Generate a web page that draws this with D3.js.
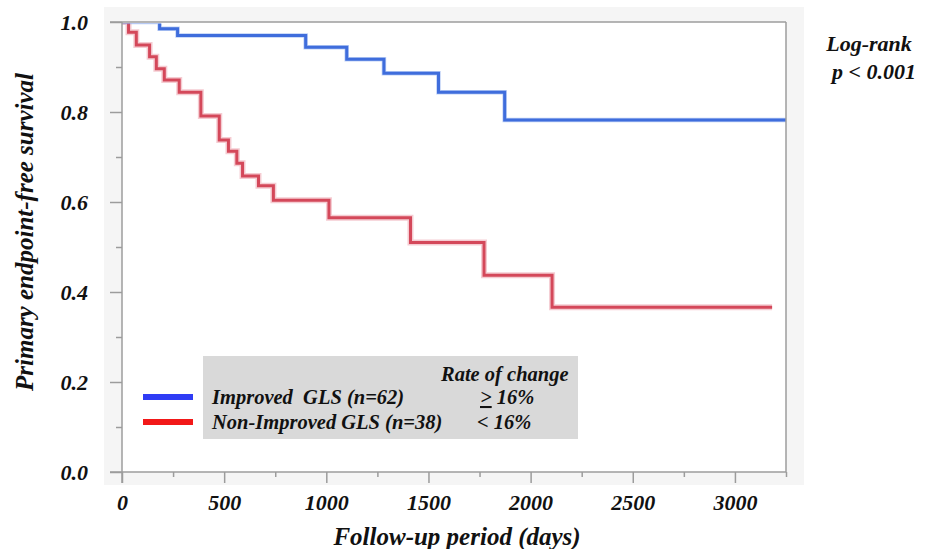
<!DOCTYPE html>
<html>
<head>
<meta charset="utf-8">
<script src="https://cdn.jsdelivr.net/npm/d3@7"></script>
<style>
  body { margin: 0; background: #fff; }
  text { font-family: "Liberation Serif", "Times New Roman", serif; font-weight: bold; font-style: italic; fill: #111; }
</style>
</head>
<body>
<div id="chart"></div>
<script>
// Kaplan-Meier steps
const improvedDays = [0, 184, 272, 899, 1100, 1282, 1549, 1873, 3250];
const improvedSurv = [1, 0.985, 0.970, 0.944, 0.917, 0.886, 0.844, 0.782, 0.782];

const nonImprovedDays = [0, 32, 70, 135, 168, 207, 280, 386, 476, 521, 562, 590, 668, 741, 1013, 1412, 1772, 2105, 3182];
const nonImprovedSurv = [1, 0.977, 0.949, 0.923, 0.896, 0.871, 0.844, 0.791, 0.738, 0.713, 0.686, 0.658, 0.636, 0.604, 0.565, 0.510, 0.437, 0.366, 0.366];

const xMajorTicks = [0, 500, 1000, 1500, 2000, 2500, 3000];
const xMinorTicks = [250, 750, 1250, 1750, 2250, 2750, 3250];
const yMajorTicks = [0, 0.2, 0.4, 0.6, 0.8, 1.0];
const yMinorTicks = [0.1, 0.3, 0.5, 0.7, 0.9];

const legendRows = [
  { label: 'Improved  GLS (n=62)', rate: '16%', sign: '>', underline: true, color: '#2f3cf5' },
  { label: 'Non-Improved GLS (n=38)', rate: '16%', sign: '<', underline: false, color: '#f21818' }
];

const width = 931, height = 549;
const x = d3.scaleLinear().domain([0, 3250]).range([122, 786]);
const y = d3.scaleLinear().domain([0, 1]).range([472, 22]);

const svg = d3.select('#chart').append('svg')
    .attr('width', width)
    .attr('height', height);

// light grey panel behind the plot
svg.append('rect')
    .attr('x', 104).attr('y', 7)
    .attr('width', 700).attr('height', 478)
    .attr('fill', '#f5f5f5');

svg.append('rect')
    .attr('x', x(0)).attr('y', y(1))
    .attr('width', x(3250) - x(0)).attr('height', y(0) - y(1))
    .attr('fill', '#fff');

// the 1.0 stretch of each curve sits under the top border
svg.append('clipPath').attr('id', 'plot-clip')
  .append('rect')
    .attr('x', x(0)).attr('y', y(1) + 1.5)
    .attr('width', x(3250) - x(0) + 4).attr('height', y(0) - y(1));

const curves = svg.append('g').attr('clip-path', 'url(#plot-clip)');

const line = d3.line()
    .x(d => x(d[0]))
    .y(d => y(d[1]))
    .curve(d3.curveStepAfter);

const redPts = d3.zip(nonImprovedDays, nonImprovedSurv);
const bluePts = d3.zip(improvedDays, improvedSurv);

curves.append('path')
    .attr('d', line(redPts))
    .attr('fill', 'none')
    .attr('stroke', 'rgba(226,110,125,0.35)')
    .attr('stroke-width', 6);
curves.append('path')
    .attr('d', line(redPts))
    .attr('fill', 'none')
    .attr('stroke', '#d4485a')
    .attr('stroke-width', 3);

curves.append('path')
    .attr('d', line(bluePts))
    .attr('fill', 'none')
    .attr('stroke', 'rgba(110,150,235,0.45)')
    .attr('stroke-width', 4.5);
curves.append('path')
    .attr('d', line(bluePts))
    .attr('fill', 'none')
    .attr('stroke', '#3f6ddc')
    .attr('stroke-width', 3);

// frame and axes
const axisColor = '#9c9c9c';
const frame = svg.append('g').attr('stroke', axisColor).attr('stroke-width', 1.5).attr('fill', 'none');
frame.append('line').attr('x1', 110).attr('x2', x(3250)).attr('y1', y(1)).attr('y2', y(1));
frame.append('line').attr('x1', 110).attr('x2', x(3250)).attr('y1', y(0)).attr('y2', y(0));
frame.append('line').attr('x1', x(0)).attr('x2', x(0)).attr('y1', y(1)).attr('y2', y(0) + 11);
frame.append('line').attr('x1', x(3250)).attr('x2', x(3250)).attr('y1', y(1)).attr('y2', y(0));

const xAxis = svg.append('g')
    .attr('transform', `translate(0,${y(0)})`)
    .call(d3.axisBottom(x).tickValues(xMajorTicks).tickSize(11).tickPadding(11).tickFormat(d3.format('d')));
const xMinor = svg.append('g')
    .attr('transform', `translate(0,${y(0)})`)
    .call(d3.axisBottom(x).tickValues(xMinorTicks).tickSize(5).tickFormat(''));

const yAxis = svg.append('g')
    .attr('transform', `translate(${x(0)},0)`)
    .call(d3.axisLeft(y).tickValues(yMajorTicks).tickSize(12).tickPadding(22).tickFormat(d3.format('.1f')));
const yMinor = svg.append('g')
    .attr('transform', `translate(${x(0)},0)`)
    .call(d3.axisLeft(y).tickValues(yMinorTicks).tickSize(6).tickFormat(''));

[xAxis, xMinor, yAxis, yMinor].forEach(g => {
  g.select('.domain').remove();
  g.selectAll('line').attr('stroke', axisColor).attr('stroke-width', 1.5);
  g.selectAll('text')
    .attr('font-family', '"Liberation Serif", serif')
    .attr('font-size', 22)
    .attr('font-weight', 'bold')
    .attr('font-style', 'italic')
    .attr('fill', '#111');
});
xAxis.selectAll('text').attr('dy', '0.71em');

// axis titles
svg.append('text')
    .attr('x', 457).attr('y', 545)
    .attr('text-anchor', 'middle')
    .attr('font-size', 25)
    .text('Follow-up period (days)');

svg.append('text')
    .attr('transform', 'translate(33,232) rotate(-90)')
    .attr('text-anchor', 'middle')
    .attr('font-size', 25)
    .text('Primary endpoint-free survival');

// log-rank note
svg.append('text')
    .attr('x', 869).attr('y', 51)
    .attr('text-anchor', 'middle')
    .attr('font-size', 22)
    .text('Log-rank');
svg.append('text')
    .attr('x', 874).attr('y', 79)
    .attr('text-anchor', 'middle')
    .attr('font-size', 22)
    .text('p < 0.001');

// legend
svg.append('rect')
    .attr('x', 203).attr('y', 356)
    .attr('width', 375).attr('height', 83)
    .attr('fill', '#d9d9d9');

svg.append('text')
    .attr('x', 441).attr('y', 381)
    .attr('font-size', 20.5)
    .text('Rate of change');

const rows = svg.selectAll('.legend-row')
  .data(legendRows)
  .join('g')
    .attr('class', 'legend-row')
    .attr('transform', (d, i) => `translate(0,${397 + i * 25})`);

rows.append('line')
    .attr('x1', 143).attr('x2', 193)
    .attr('stroke', d => d.color)
    .attr('stroke-width', 6);

rows.append('text')
    .attr('x', 212).attr('y', 7)
    .attr('font-size', 20.5)
    .style('white-space', 'pre')
    .text(d => d.label);

const rate = rows.append('text')
    .attr('x', d => d.underline ? 480 : 477).attr('y', 7)
    .attr('font-size', 20.5);
rate.append('tspan')
    .attr('text-decoration', d => d.underline ? 'underline' : null)
    .text(d => d.sign);
rate.append('tspan')
    .text(d => ' ' + d.rate);
</script>
</body>
</html>
